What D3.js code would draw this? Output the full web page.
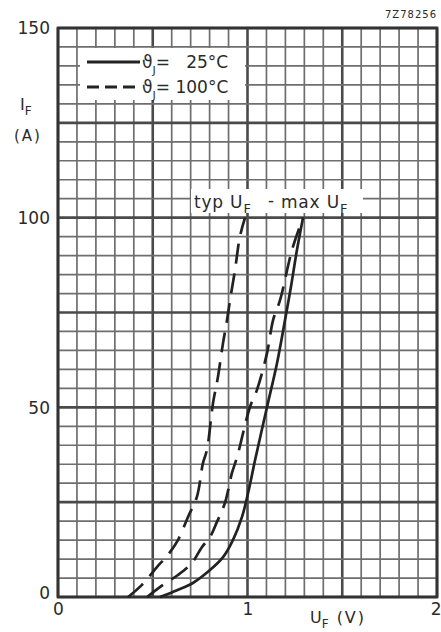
<!DOCTYPE html>
<html>
<head>
<meta charset="utf-8">
<script src="https://cdn.jsdelivr.net/npm/d3@7"></script>
<style>
  body { margin: 0; background: #fff; }
  svg text { font-family: "DejaVu Sans", sans-serif; fill: #2a2a2a; }
</style>
</head>
<body>
<svg id="chart"></svg>
<script>
// forward voltage (V) vs forward current (A)
const typ100U = [0.37, 0.443, 0.522, 0.580, 0.633, 0.686, 0.733, 0.765, 0.786, 0.818, 0.844, 0.871, 0.892, 0.908, 0.934, 0.960, 0.987];
const typ100I = [0, 3.2, 7.9, 11.1, 15.0, 21.1, 26.4, 35.3, 38.8, 51.1, 58, 67, 73, 78.3, 86.2, 95, 100];
const max100U = [0.47, 0.554, 0.633, 0.707, 0.760, 0.802, 0.839, 0.881, 0.918, 0.945, 1.013, 1.050, 1.103, 1.135, 1.172, 1.235, 1.293];
const max100I = [0, 3.2, 5.8, 9.0, 13.2, 15.8, 19.8, 24.8, 32.7, 36.9, 50.1, 54.6, 64.3, 73, 78.3, 91.5, 100];
const max25U = [0.538, 0.628, 0.712, 0.802, 0.871, 0.923, 0.971, 1.003, 1.040, 1.103, 1.156, 1.198, 1.230, 1.261, 1.293];
const max25I = [0, 1.8, 3.7, 7.1, 10.5, 15.0, 21.1, 27.4, 36.1, 50.1, 61.7, 73, 82, 91.5, 100];

const xTicks = [0, 1, 2];
const yTicks = [0, 50, 100, 150];
const xMinor = d3.range(0, 2.0001, 0.1);
const yMinor = d3.range(0, 150.001, 5);

const width = 441, height = 632;
const margin = {top: 28, right: 4, bottom: 35, left: 58};

const svg = d3.select('#chart').attr('width', width).attr('height', height);

const x = d3.scaleLinear().domain([0, 2]).range([margin.left, width - margin.right]);
const y = d3.scaleLinear().domain([0, 150]).range([height - margin.bottom, margin.top]);

// grid
const grid = svg.append('g');
grid.selectAll('.vg')
  .data(xMinor)
  .join('line')
    .attr('x1', d => x(d)).attr('x2', d => x(d))
    .attr('y1', y(0)).attr('y2', y(150))
    .attr('stroke-width', (d, i) => i % 5 === 0 ? 2.6 : 1.7)
    .attr('stroke', (d, i) => i % 5 === 0 ? '#4a4a4a' : '#6e6e6e');
grid.selectAll('.hg')
  .data(yMinor)
  .join('line')
    .attr('y1', d => y(d)).attr('y2', d => y(d))
    .attr('x1', x(0)).attr('x2', x(2))
    .attr('stroke-width', (d, i) => i % 5 === 0 ? 2.6 : 1.7)
    .attr('stroke', (d, i) => i % 5 === 0 ? '#4a4a4a' : '#6e6e6e');
svg.append('rect')
  .attr('x', x(0)).attr('y', y(150))
  .attr('width', x(2) - x(0)).attr('height', y(0) - y(150))
  .attr('fill', 'none').attr('stroke', '#333').attr('stroke-width', 2.8);

// axes labels
const yAxis = d3.axisLeft(y).tickValues(yTicks).tickSize(0).tickPadding(8).tickFormat(d3.format('d'));
svg.append('g')
  .attr('transform', `translate(${x(0)},0)`)
  .call(yAxis)
  .call(g => g.select('.domain').remove())
  .selectAll('text')
    .attr('font-size', 17)
    .attr('fill', '#2a2a2a')
    .attr('dy', (d) => d === 0 ? '0.1em' : '0.35em');

const xAxis = d3.axisBottom(x).tickValues(xTicks).tickSize(0).tickPadding(6).tickFormat(d3.format('d'));
svg.append('g')
  .attr('transform', `translate(0,${y(0)})`)
  .call(xAxis)
  .call(g => g.select('.domain').remove())
  .selectAll('text')
    .attr('font-size', 17)
    .attr('fill', '#2a2a2a')
    .attr('text-anchor', d => d === 2 ? 'end' : 'middle')
    .attr('dx', d => d === 2 ? 4 : 0);

// axis titles
const yt = svg.append('text').attr('x', 20).attr('y', 110).attr('font-size', 16);
yt.append('tspan').text('I');
yt.append('tspan').attr('font-size', 12).attr('dy', 5).text('F');
svg.append('text').attr('x', 14).attr('y', 141).attr('font-size', 15)
  .attr('letter-spacing', 2).text('(A)');

const xt = svg.append('text').attr('x', 310).attr('y', 623).attr('font-size', 16);
xt.append('tspan').text('U');
xt.append('tspan').attr('font-size', 12).attr('dy', 5).text('F');
xt.append('tspan').attr('dy', -5).attr('dx', 8).attr('letter-spacing', 2).text('(V)');

svg.append('text').attr('x', x(2)).attr('y', 18).attr('font-size', 10)
  .attr('text-anchor', 'end').attr('letter-spacing', 1).text('7Z78256');

// curves
const line = d3.line().x(d => x(d[0])).y(d => y(d[1])).curve(d3.curveCatmullRom.alpha(0.5));
const series = [
  {u: typ100U, i: typ100I, dash: '20,10'},
  {u: max100U, i: max100I, dash: '20,10'},
  {u: max25U, i: max25I, dash: null}
];
svg.append('g')
  .selectAll('path')
  .data(series)
  .join('path')
    .attr('d', s => line(d3.zip(s.u, s.i)))
    .attr('fill', 'none')
    .attr('stroke', '#222')
    .attr('stroke-width', 2.7)
    .attr('stroke-dasharray', s => s.dash);

// curve labels
svg.append('rect').attr('x', 191).attr('y', 189).attr('width', 172).attr('height', 24).attr('fill', '#fff');
function subLabel(x0, main, sub) {
  const t = svg.append('text').attr('x', x0).attr('y', 208).attr('font-size', 17).attr('letter-spacing', 0.8);
  t.append('tspan').text(main);
  t.append('tspan').attr('font-size', 13).attr('dy', 5).text(sub);
}
subLabel(194, 'typ U', 'F');
svg.append('text').attr('x', 268).attr('y', 206).attr('font-size', 17).text('-');
subLabel(281, 'max U', 'F');

// legend
const leg = svg.append('g');
leg.append('rect').attr('x', 80).attr('y', 48).attr('width', 165).attr('height', 52).attr('fill', '#fff');
const legItems = [
  {dash: null, t: '=   25°C', yy: 62},
  {dash: '12,6', t: '= 100°C', yy: 87}
];
legItems.forEach(it => {
  leg.append('line').attr('x1', 87).attr('x2', 140).attr('y1', it.yy).attr('y2', it.yy)
    .attr('stroke', '#222').attr('stroke-width', 2.8).attr('stroke-dasharray', it.dash);
  const t = leg.append('text').attr('x', 142).attr('y', it.yy + 6).attr('font-size', 17)
    .attr('xml:space', 'preserve');
  t.append('tspan').text('ϑ');
  t.append('tspan').attr('font-size', 11).attr('dy', 6).text('J');
  t.append('tspan').attr('dy', -6).text(it.t);
});
</script>
</body>
</html>
